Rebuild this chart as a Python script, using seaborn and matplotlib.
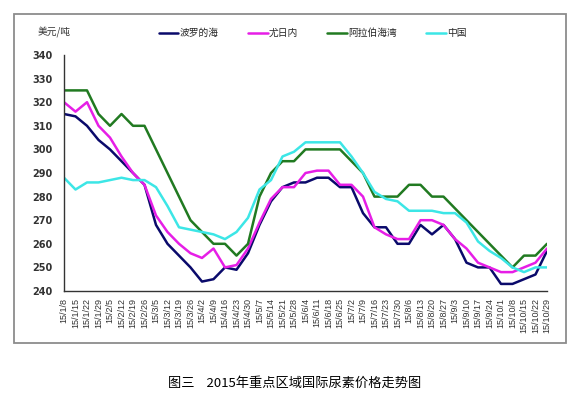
import numpy as np
import pandas as pd
import matplotlib
matplotlib.use('Agg')
import matplotlib.pyplot as plt
import seaborn as sns
from matplotlib.patches import Rectangle

# Weekly dates (yy/m/d)
dates = ['15/1/8', '15/1/15', '15/1/22', '15/1/29', '15/2/5', '15/2/12', '15/2/19',
         '15/2/26', '15/3/5', '15/3/12', '15/3/19', '15/3/26', '15/4/2', '15/4/9',
         '15/4/16', '15/4/23', '15/4/30', '15/5/7', '15/5/14', '15/5/21', '15/5/28',
         '15/6/4', '15/6/11', '15/6/18', '15/6/25', '15/7/2', '15/7/9', '15/7/16',
         '15/7/23', '15/7/30', '15/8/6', '15/8/13', '15/8/20', '15/8/27', '15/9/3',
         '15/9/10', '15/9/17', '15/9/24', '15/10/1', '15/10/8', '15/10/15',
         '15/10/22', '15/10/29']

# Prices, USD/ton
baltic = [315, 314, 310, 304, 300, 295, 290, 285, 268, 260, 255, 250, 244, 245, 250,
          249, 256, 268, 278, 284, 286, 286, 288, 288, 284, 284, 273, 267, 267, 260,
          260, 268, 264, 268, 262, 252, 250, 250, 243, 243, 245, 247, 257]
yuzhny = [320, 316, 320, 310, 305, 297, 290, 285, 272, 265, 260, 256, 254, 258, 250,
          251, 258, 269, 279, 284, 284, 290, 291, 291, 285, 285, 280, 267, 264, 262,
          262, 270, 270, 268, 262, 258, 252, 250, 248, 248, 250, 252, 258]
arab_gulf = [325, 325, 325, 315, 310, 315, 310, 310, 300, 290, 280, 270, 265, 260, 260,
             255, 260, 280, 290, 295, 295, 300, 300, 300, 300, 295, 290, 280, 280, 280,
             285, 285, 280, 280, 275, 270, 265, 260, 255, 250, 255, 255, 260]
china = [288, 283, 286, 286, 287, 288, 287, 287, 284, 276, 267, 266, 265, 264, 262,
         265, 271, 283, 287, 297, 299, 303, 303, 303, 303, 297, 290, 282, 279, 278,
         274, 274, 274, 273, 273, 269, 261, 257, 254, 250, 248, 250, 250]

regions = ['波罗的海', '尤日内', '阿拉伯海湾', '中国']
colors = ['#0a0a6b', '#e61ee6', '#217a21', '#3ce6e6']

# Long format for seaborn
df = pd.DataFrame({
    'week': list(range(len(dates))) * 4,
    'price': baltic + yuzhny + arab_gulf + china,
    'region': np.repeat(regions, len(dates)),
})

sns.set_style('white')
plt.rcParams['font.family'] = ['Noto Sans CJK SC', 'DejaVu Sans']

fig = plt.figure(figsize=(5.84, 3.98), dpi=100)
ax = fig.add_axes([64 / 584, 1 - 291 / 398, (547 - 64) / 584, (291 - 55) / 398])

sns.lineplot(data=df, x='week', y='price', hue='region', hue_order=regions,
             palette=colors, linewidth=1.8, ax=ax, legend=False)

ax.set_xlim(0, len(dates) - 1)
ax.set_ylim(240, 340)
ax.set_yticks(range(240, 341, 10))
ax.set_xticks(range(len(dates)))
ax.set_xticklabels(dates, rotation=90, fontsize=6.5, family='Liberation Sans', color='#333333')
ax.set_yticklabels([str(v) for v in range(240, 341, 10)], fontsize=7,
                   family='DejaVu Sans', fontweight='bold', color='#333333')
ax.tick_params(axis='x', direction='in', length=3, pad=5, color='#333333')
ax.tick_params(axis='y', direction='inout', length=4, pad=6, color='#333333')
ax.set_xlabel('')
ax.set_ylabel('')
for s in ['top', 'right']:
    ax.spines[s].set_visible(False)
for s in ['left', 'bottom']:
    ax.spines[s].set_color('#333333')
    ax.spines[s].set_linewidth(1.0)

# unit label
fig.text(38 / 584, 1 - 32 / 398, '美元/吨', fontsize=7, color='#333333', va='center')

# legend across the top
handles = [plt.Line2D([], [], color=c, lw=1.8) for c in colors]
fig.legend(handles, regions, loc='center left', bbox_to_anchor=(159 / 584, 1 - 33 / 398),
           ncol=4, frameon=False, fontsize=7, handlelength=2.0, handletextpad=0.15,
           columnspacing=3.0, borderaxespad=0, borderpad=0)

# outer frame
fig.patches.append(Rectangle((14 / 584, 1 - 343 / 398), (566 - 14) / 584, (343 - 14) / 398,
                             transform=fig.transFigure, fill=False,
                             edgecolor='#8c8c8c', linewidth=1.3))

# caption
fig.text(0.504, 1 - 383 / 398, '图三    2015年重点区域国际尿素价格走势图',
         fontsize=9.5, ha='center', va='center', color='black')

fig.savefig('out.png', dpi=100)
